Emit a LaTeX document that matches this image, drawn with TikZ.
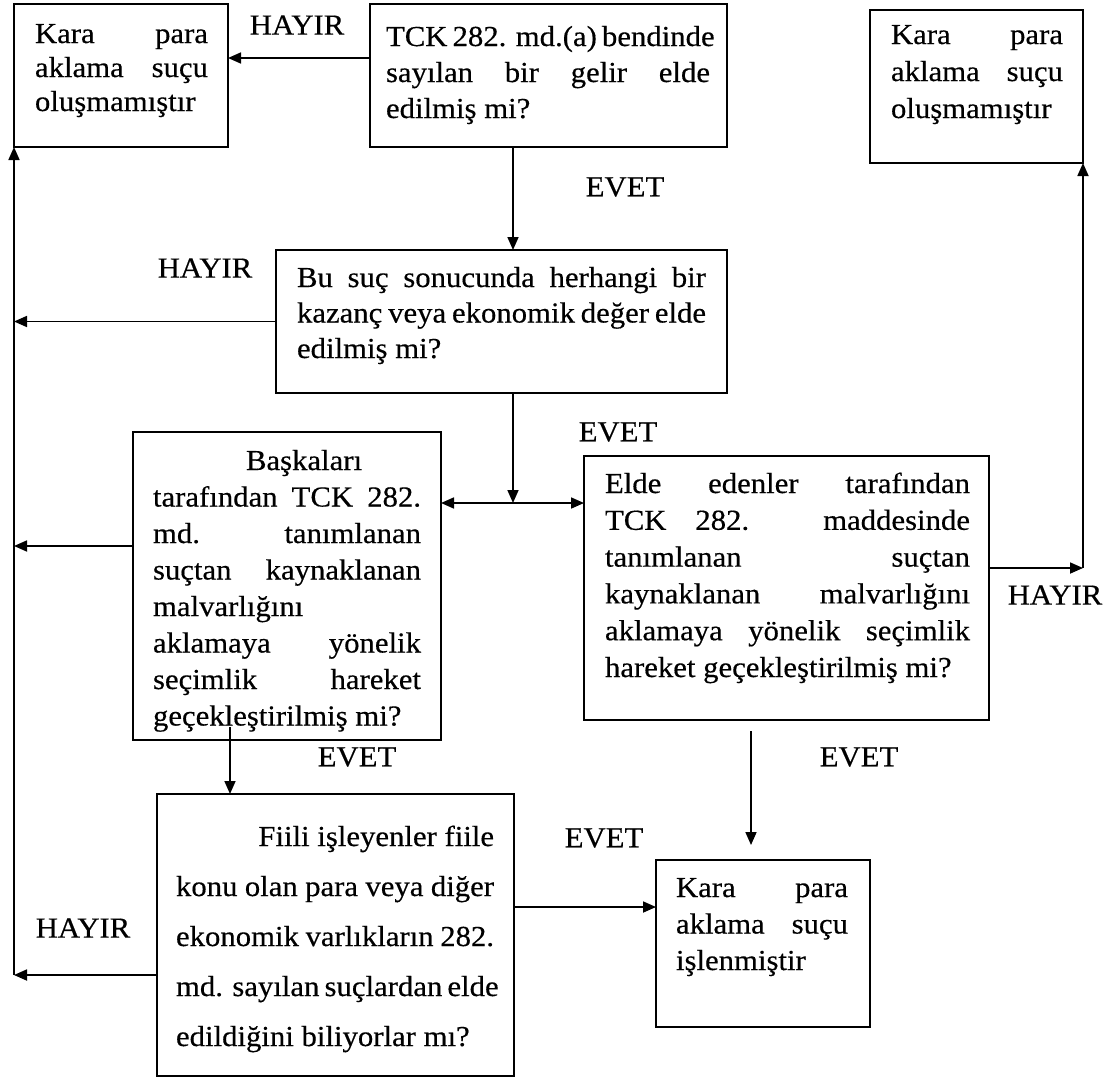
\documentclass[tikz,border=0pt]{standalone}
\usepackage{fontspec}
\setmainfont{Liberation Serif}[FakeStretch=1.06,FakeBold=0.4]
\usetikzlibrary{arrows.meta}
\newcommand\jl[1]{\makebox[\linewidth][s]{#1}}
\newcommand\fst{\spaceskip=0pt\xspaceskip=0pt\rule{0pt}{22pt}}
\begin{document}
\begin{tikzpicture}[x=1pt,y=-1pt,
  box/.style={draw=black, line width=1.5pt, inner sep=0pt, outer sep=0pt, anchor=north west},
  txt/.style={inner sep=0pt, outer sep=0pt, anchor=north west, align=left},
  lbl/.style={inner sep=0pt, font=\fontsize{29}{34}\selectfont},
  ln/.style={draw=black, line width=1.7pt},
  arr/.style={ln, -{Triangle[length=13pt,width=11pt]}},
  arrb/.style={ln, {Triangle[length=13pt,width=11pt]}-{Triangle[length=13pt,width=11pt]}},
]
\fill[white] (0,0) rectangle (1114,1080);
\useasboundingbox (0,0) rectangle (1114,1080);

% boxes
\node[box, minimum width=214pt, minimum height=143pt] (A) at (14,4) {};
\node[box, minimum width=357pt, minimum height=143pt] (B) at (370,4) {};
\node[box, minimum width=213pt, minimum height=153pt] (F) at (870,10) {};
\node[box, minimum width=451pt, minimum height=143pt] (C) at (276,250) {};
\node[box, minimum width=308pt, minimum height=308pt] (D) at (133,432) {};
\node[box, minimum width=405pt, minimum height=264pt] (E) at (584,456) {};
\node[box, minimum width=357pt, minimum height=282pt] (G) at (157,794) {};
\node[box, minimum width=214pt, minimum height=167pt] (H) at (656,860) {};

% texts
\node[txt, text width=173pt, font=\fontsize{29}{34}\selectfont] (At) at (35,21)
  {\fst\jl{Kara para}\\\jl{aklama suçu}\\oluşmamıştır};
\node[txt, text width=324pt, font=\fontsize{29}{36}\selectfont] (Bt) at (386,24)
  {\fst\jl{TCK 282. md.(a) bendinde}\\\jl{sayılan bir gelir elde}\\edilmiş mi?};
\node[txt, text width=172pt, font=\fontsize{29}{37}\selectfont] (Ft) at (891,22)
  {\fst\jl{Kara para}\\\jl{aklama suçu}\\oluşmamıştır};
\node[txt, text width=409pt, font=\fontsize{29}{35.5}\selectfont] (Ct) at (297,265)
  {\fst\jl{Bu suç sonucunda herhangi bir}\\\jl{kazanç veya ekonomik değer elde}\\edilmiş mi?};
\node[txt, text width=268pt, font=\fontsize{29}{36.5}\selectfont] (Dt) at (153,448)
  {\fst\hspace*{93pt}Başkaları\\\jl{tarafından TCK 282.}\\\jl{md. tanımlanan}\\\jl{suçtan kaynaklanan}\\malvarlığını\\\jl{aklamaya yönelik}\\\jl{seçimlik hareket}\\geçekleştirilmiş mi?};
\node[txt, text width=365pt, font=\fontsize{29}{36.8}\selectfont] (Et) at (605,471)
  {\fst\jl{Elde edenler tarafından}\\\jl{TCK 282. maddesinde}\\\jl{tanımlanan suçtan}\\\jl{kaynaklanan malvarlığını}\\\jl{aklamaya yönelik seçimlik}\\hareket geçekleştirilmiş mi?};
\node[txt, text width=318pt, font=\fontsize{29}{50}\selectfont] (Gt) at (176,824)
  {\fst\makebox[\linewidth][r]{Fiili işleyenler fiile}\\\jl{konu olan para veya diğer}\\\jl{ekonomik varlıkların 282.}\\\jl{md. sayılan suçlardan elde}\\edildiğini biliyorlar mı?};
\node[txt, text width=172pt, font=\fontsize{29}{36.5}\selectfont] (Ht) at (676,875)
  {\fst\jl{Kara para}\\\jl{aklama suçu}\\işlenmiştir};

% labels
\node[lbl] (h1) at (297,25) {HAYIR};
\node[lbl] (e1) at (625,187) {EVET};
\node[lbl] (h2) at (205,268) {HAYIR};
\node[lbl] (e2) at (618,432) {EVET};
\node[lbl] (h3) at (1055,595) {HAYIR};
\node[lbl] (e3) at (357,757) {EVET};
\node[lbl] (e4) at (859,757) {EVET};
\node[lbl] (e5) at (604,838) {EVET};
\node[lbl] (h4) at (83,928) {HAYIR};

% helper coordinates
\coordinate (yBA) at (0,58);
\coordinate (xBC) at (513,0);
\coordinate (J) at (513,503);
\coordinate (L2) at (14,546);
\coordinate (L3) at (14,975);
\coordinate (K) at (1083,568);
\coordinate (xDG) at (230,0);
\coordinate (yGH) at (0,907);
\coordinate (xEH) at (751,0);

% connectors
\draw[arr] (B.west |- yBA) -- (A.east |- yBA);
\draw[arr] (B.south -| xBC) -- (C.north -| xBC);
\draw[arr] (C.west) -- (C.west -| A.south west);
\draw[arr] (C.south -| J) -- (J);
\draw[arrb] (D.east |- J) -- (E.west |- J);
\draw[arr] (D.west |- L2) -- (L2);
\draw[arr, shorten <=-13pt] (D.south -| xDG) -- (G.north -| xDG);
\draw[arr] (G.west |- L3) -- (L3);
\draw[arr] (L3) -- (A.south west);
\draw[arr] (E.east |- K) -- (K);
\draw[arr] (K) -- (F.south east);
\draw[arr] (G.east |- yGH) -- (H.west |- yGH);
\draw[arr, shorten <=11pt, shorten >=15pt] (E.south -| xEH) -- (H.north -| xEH);
\end{tikzpicture}
\end{document}
